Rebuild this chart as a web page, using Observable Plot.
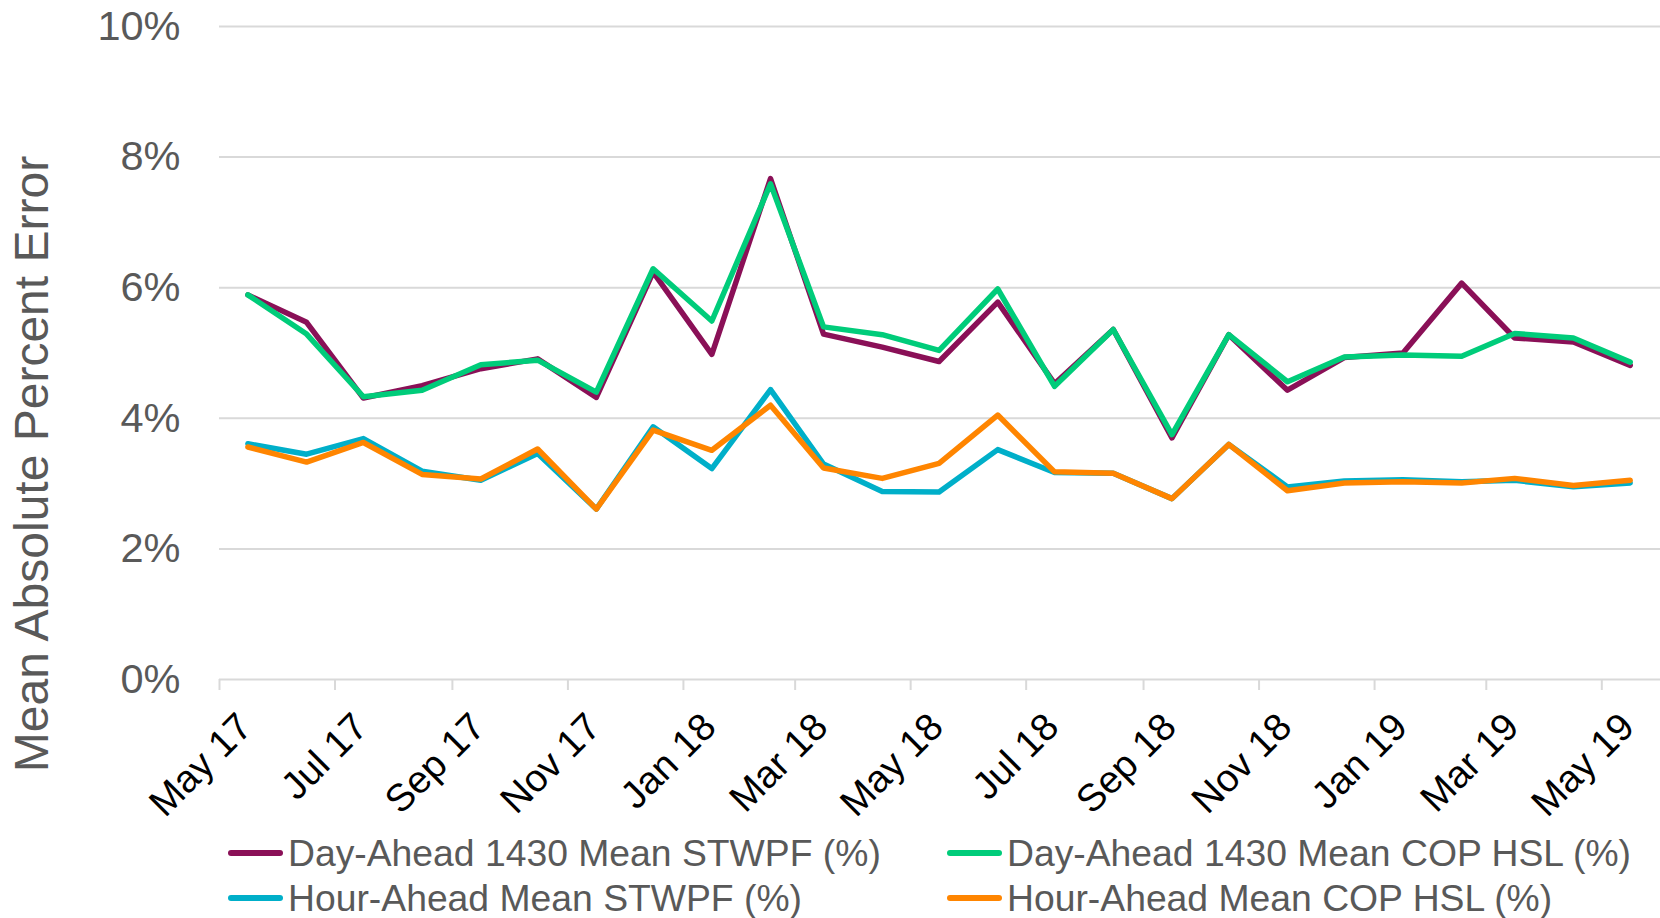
<!DOCTYPE html>
<html>
<head>
<meta charset="utf-8">
<script src="https://cdn.jsdelivr.net/npm/d3@7"></script>
<script src="https://cdn.jsdelivr.net/npm/@observablehq/plot@0.6"></script>
<style>
  html, body { margin: 0; padding: 0; background: #fff; }
  #chart { width: 1660px; height: 840px; }
  #chart svg { display: block; }
  #legend { position: relative; width: 1660px; height: 78px; font-family: "Liberation Sans", Arial, sans-serif; font-size: 37.3px; line-height: 40px; color: #595959; }
  .item { position: absolute; display: flex; align-items: center; white-space: nowrap; transform: translateY(-50%); }
  .sw { width: 55px; height: 6px; border-radius: 3px; margin-right: 5px; }
</style>
</head>
<body>
<div id="chart"></div>
<div id="legend"></div>
<script>
// Monthly data points (mid-month), May 2017 - May 2019
const months = ["2017-05","2017-06","2017-07","2017-08","2017-09","2017-10","2017-11","2017-12",
  "2018-01","2018-02","2018-03","2018-04","2018-05","2018-06","2018-07","2018-08","2018-09","2018-10","2018-11","2018-12",
  "2019-01","2019-02","2019-03","2019-04","2019-05"];

const seriesNames = ["Day-Ahead 1430 Mean STWPF (%)", "Day-Ahead 1430 Mean COP HSL (%)",
  "Hour-Ahead Mean STWPF (%)", "Hour-Ahead Mean COP HSL (%)"];
const seriesColors = ["#8a1057", "#00cc7a", "#00afc9", "#ff8500"];

const daSTWPF = [5.89, 5.47, 4.31, 4.50, 4.76, 4.91, 4.32, 6.24, 4.98, 7.67, 5.29, 5.09, 4.87, 5.78, 4.53, 5.36, 3.70, 5.28, 4.43, 4.93, 5.00, 6.07, 5.23, 5.17, 4.81];
const daCOP   = [5.89, 5.29, 4.33, 4.43, 4.82, 4.89, 4.40, 6.29, 5.49, 7.59, 5.40, 5.28, 5.04, 5.98, 4.49, 5.36, 3.75, 5.28, 4.56, 4.94, 4.97, 4.95, 5.30, 5.23, 4.86];
const haSTWPF = [3.61, 3.45, 3.69, 3.19, 3.05, 3.46, 2.61, 3.87, 3.23, 4.44, 3.30, 2.88, 2.87, 3.52, 3.17, 3.16, 2.77, 3.60, 2.95, 3.04, 3.06, 3.03, 3.05, 2.95, 3.01];
const haCOP   = [3.56, 3.33, 3.63, 3.14, 3.07, 3.53, 2.61, 3.82, 3.51, 4.20, 3.24, 3.08, 3.31, 4.05, 3.18, 3.16, 2.77, 3.60, 2.89, 3.01, 3.03, 3.01, 3.08, 2.97, 3.05];

const tickMonths = ["2017-05","2017-07","2017-09","2017-11","2018-01","2018-03","2018-05","2018-07","2018-09","2018-11","2019-01","2019-03","2019-05"];
const tickLabels = ["May 17","Jul 17","Sep 17","Nov 17","Jan 18","Mar 18","May 18","Jul 18","Sep 18","Nov 18","Jan 19","Mar 19","May 19"];
const yTicks = [0, 2, 4, 6, 8, 10];

const allSeries = [daSTWPF, daCOP, haSTWPF, haCOP];
const rows = [];
allSeries.forEach((vals, s) => {
  vals.forEach((v, i) => rows.push({date: new Date(months[i] + "-16T00:00:00Z"), value: v, series: seriesNames[s]}));
});
const tickDates = tickMonths.map(m => new Date(m + "-01T00:00:00Z"));
const ticks = tickDates.map((d, i) => ({date: d, label: tickLabels[i]}));

const font = "'Liberation Sans', Arial, sans-serif";

const chart = Plot.plot({
  width: 1660,
  height: 840,
  marginLeft: 219,
  marginRight: 0,
  marginTop: 26,
  marginBottom: 161,
  style: {fontFamily: font, background: "#fff"},
  x: {type: "utc", domain: [new Date("2017-05-01T00:00:00Z"), new Date("2019-06-01T00:00:00Z")]},
  y: {domain: [0, 10]},
  color: {domain: seriesNames, range: seriesColors},
  marks: [
    Plot.ruleY(yTicks.filter(d => d > 0), {stroke: "#d9d9d9", strokeWidth: 2}),
    Plot.ruleY([0], {stroke: "#d9d9d9", strokeWidth: 2}),
    Plot.axisX({ticks: tickDates, tickSize: 11, tickFormat: () => "", stroke: "#d9d9d9", strokeWidth: 2, label: null}),
    Plot.text(ticks, {x: "date", text: "label", frameAnchor: "bottom", rotate: -45, textAnchor: "end", lineAnchor: "middle", dx: 26, dy: 41, fontSize: 38.5, fill: "#000"}),
    Plot.axisY({ticks: yTicks, tickFormat: d => d + "%", tickSize: 0, tickPadding: 39, fontSize: 41.5, color: "#595959", label: null}),
    Plot.text(["Mean Absolute Percent Error"], {frameAnchor: "left", rotate: -90, dx: -187, dy: 111, fontSize: 48, fill: "#595959", textAnchor: "middle", lineAnchor: "middle"}),
    Plot.line(rows, {x: "date", y: "value", z: "series", stroke: "series", strokeWidth: 5.5, strokeLinejoin: "round", strokeLinecap: "round"})
  ]
});
document.getElementById("chart").appendChild(chart);

// Legend below the SVG
const legend = document.getElementById("legend");
const pos = [[228, 13], [947, 13], [228, 58], [947, 58]];
seriesNames.forEach((name, i) => {
  const item = document.createElement("div");
  item.className = "item";
  item.style.left = pos[i][0] + "px";
  item.style.top = pos[i][1] + "px";
  const sw = document.createElement("span");
  sw.className = "sw";
  sw.style.background = seriesColors[i];
  const t = document.createElement("span");
  t.textContent = name;
  item.appendChild(sw);
  item.appendChild(t);
  legend.appendChild(item);
});
</script>
</body>
</html>
